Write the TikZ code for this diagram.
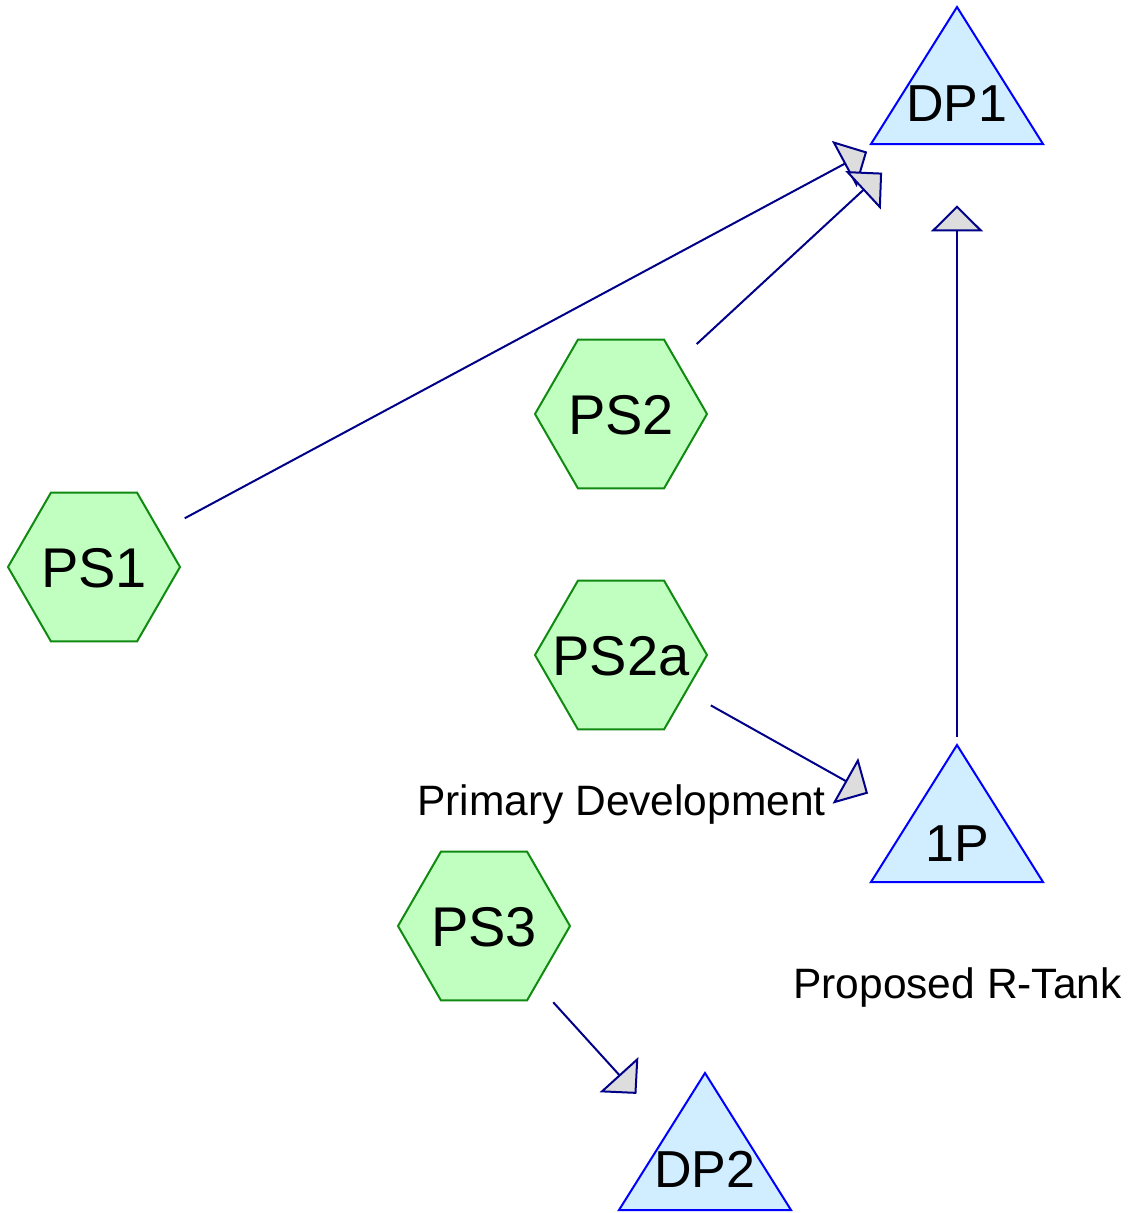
\documentclass[tikz,border=0pt]{standalone}
\usepackage{fontspec}
\setmainfont{Liberation Sans}
\usetikzlibrary{shapes.geometric,arrows.meta,backgrounds}
\definecolor{hexfill}{HTML}{C0FFC0}
\definecolor{hexdraw}{HTML}{108A10}
\definecolor{trifill}{HTML}{D0EEFF}
\definecolor{tridraw}{HTML}{0000FF}
\definecolor{connc}{HTML}{000088}
\definecolor{arrowfill}{HTML}{DDDDDD}
\newcommand{\hextext}[1]{\makebox[0pt]{\raisebox{-20pt}[0pt][0pt]{#1}}}
\tikzset{
  hexnode/.style={regular polygon, regular polygon sides=6, minimum size=172pt,
    inner sep=0pt, outer sep=0pt, draw=hexdraw, fill=hexfill, line width=2pt,
    font=\fontsize{56}{60}\selectfont},
  trinode/.style={inner sep=0pt, outer sep=0pt, font=\fontsize{52}{56}\selectfont},
  triangleshape/.style={draw=tridraw, fill=trifill, line width=2pt, line join=miter},
  lbl/.style={inner sep=0pt, anchor=base, font=\fontsize{42.5}{46}\selectfont},
  conn/.style={draw=connc, line width=2pt, shorten <=103pt, shorten >=102pt,
    -{Triangle[length=26pt,width=52pt,fill=arrowfill]}}
}
\begin{document}
\begin{tikzpicture}[x=1pt,y=-1pt]
\useasboundingbox (0,0) rectangle (1139,1213);
% triangle nodes (text), shapes drawn behind
\node[trinode] (dp1) at (957,103.4) {DP1};
\node[trinode] (p1) at (957,843.4) {1P};
\node[trinode] (dp2) at (705,1169.4) {DP2};
\begin{scope}[on background layer]
  \path[triangleshape] (957,7) -- (1043,144) -- (871,144) -- cycle;
  \path[triangleshape] (957,745) -- (1043,882) -- (871,882) -- cycle;
  \path[triangleshape] (705,1073) -- (791,1210) -- (619,1210) -- cycle;
\end{scope}
% hexagon nodes
\node[hexnode] (ps1) at (94,567) {\hextext{PS1}};
\node[hexnode] (ps2) at (621,414) {\hextext{PS2}};
\node[hexnode] (ps2a) at (621,655) {\hextext{PS2a}};
\node[hexnode] (ps3) at (484,926) {\hextext{PS3}};
% labels
\node[lbl] (lblpd) at (621.5,815) {Primary Development};
\node[lbl] (lblrt) at (957.5,998) {Proposed R-Tank};
% connectors
\draw[conn] (ps1.center) -- (dp1.center);
\draw[conn] (ps2.center) -- (dp1.center);
\draw[conn,shorten <=106pt] (p1.center) -- (dp1.center);
\draw[conn] (ps2a.center) -- (p1.center);
\draw[conn] (ps3.center) -- (dp2.center);
\end{tikzpicture}
\end{document}
